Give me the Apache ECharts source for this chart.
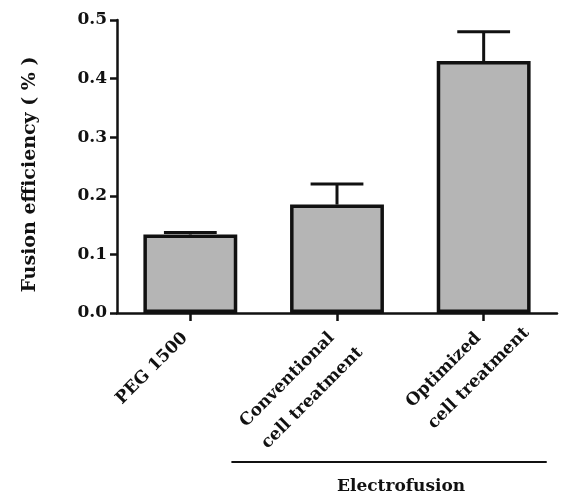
<!DOCTYPE html>
<html><head><meta charset="utf-8">
<script src="https://cdn.jsdelivr.net/npm/echarts@6/dist/echarts.min.js"></script>
<style>html,body{margin:0;padding:0;background:#fff}#c{width:563px;height:497px}</style>
</head><body><div id="c"></div>
<script>
const categories = ['PEG 1500', 'Conventional\ncell treatment', 'Optimized\ncell treatment'];
const means = [0.134, 0.185, 0.430];
const upperErrors = [0.1375, 0.220, 0.480];
const yMin = 0, yMax = 0.5, yStep = 0.1;
const yAxisTitle = 'Fusion efficiency ( % )';
const groupLabel = 'Electrofusion';
const groupFirst = 1, groupLast = 2;

const FONT = "'DejaVu Serif', 'Liberation Serif', serif";
const INK = '#111';
const chart = echarts.init(document.getElementById('c'), null, {renderer: 'canvas'});

const errData = categories.map((c, i) => [i, means[i], upperErrors[i]]);

chart.setOption({
  backgroundColor: '#fff',
  animation: false,
  grid: {left: 117, right: 6, top: 20, bottom: 184, containLabel: false, outerBoundsMode: 'none'},
  xAxis: {
    type: 'category',
    data: categories,
    axisLine: {lineStyle: {color: INK, width: 2.5}},
    axisTick: {show: true, alignWithLabel: true, length: 8, lineStyle: {color: INK, width: 2.5}},
    axisLabel: {
      interval: 0, rotate: 45, margin: 15, align: 'right', verticalAlign: 'top',
      formatter: v => { const p = v.split('\n'); return p.length > 1 ? '{a|' + p[0] + '}\n{b|' + p[1] + '}' : '{a|' + p[0] + '}'; },
      rich: {
        a: {fontFamily: FONT, fontWeight: 'bold', fontSize: 17, color: INK, lineHeight: 3, padding: [0, 9, 0, 0]},
        b: {fontFamily: FONT, fontWeight: 'bold', fontSize: 17, color: INK, lineHeight: 58, align: 'left', width: 1}
      }
    }
  },
  yAxis: {
    type: 'value', min: yMin, max: yMax, interval: yStep,
    name: yAxisTitle, nameLocation: 'middle', nameRotate: 90, nameGap: 77,
    nameTextStyle: {fontFamily: FONT, fontWeight: 'bold', fontSize: 19, color: INK, padding: [0, 16, 0, 0]},
    axisLine: {show: true, lineStyle: {color: INK, width: 2.5}},
    axisTick: {show: true, length: 7, lineStyle: {color: INK, width: 2.5}},
    splitLine: {show: false},
    axisLabel: {margin: 10, fontFamily: FONT, fontWeight: 'bold', fontSize: 17, color: INK, formatter: v => v.toFixed(1)}
  },
  series: [
    {
      type: 'bar', data: means, barWidth: '64%',
      itemStyle: {color: '#b5b5b5', borderColor: INK, borderWidth: 3.5},
      z: 2
    },
    {
      type: 'custom', data: errData, z: 3,
      renderItem: (params, api) => {
        const x = api.value(0);
        const top = api.coord([x, api.value(2)]);
        const base = api.coord([x, api.value(1)]);
        const half = api.size([1, 0])[0] * 0.18;
        const st = {stroke: INK, lineWidth: 3};
        return {type: 'group', children: [
          {type: 'line', shape: {x1: top[0], y1: top[1], x2: base[0], y2: base[1]}, style: st},
          {type: 'line', shape: {x1: top[0] - half, y1: top[1], x2: top[0] + half, y2: top[1]}, style: st}
        ]};
      }
    }
  ]
});

// group bracket ("Electrofusion") placed relative to axis scales
const c1 = chart.convertToPixel({xAxisIndex: 0}, categories[groupFirst]);
const c2 = chart.convertToPixel({xAxisIndex: 0}, categories[groupLast]);
const band = c2 - c1;
const y0 = chart.convertToPixel({yAxisIndex: 0}, yMin);
const lx1 = c1 - 0.72 * band, lx2 = c2 + 0.43 * band;
chart.setOption({
  graphic: [
    {type: 'line', shape: {x1: lx1, y1: y0 + 149, x2: lx2, y2: y0 + 149}, style: {stroke: INK, lineWidth: 2}},
    {type: 'text', x: (lx1 + lx2) / 2 + 12, y: y0 + 174,
     style: {text: groupLabel, fontFamily: FONT, fontWeight: 'bold', fontSize: 17, fill: INK, align: 'center', verticalAlign: 'middle'}}
  ]
});
</script></body></html>
